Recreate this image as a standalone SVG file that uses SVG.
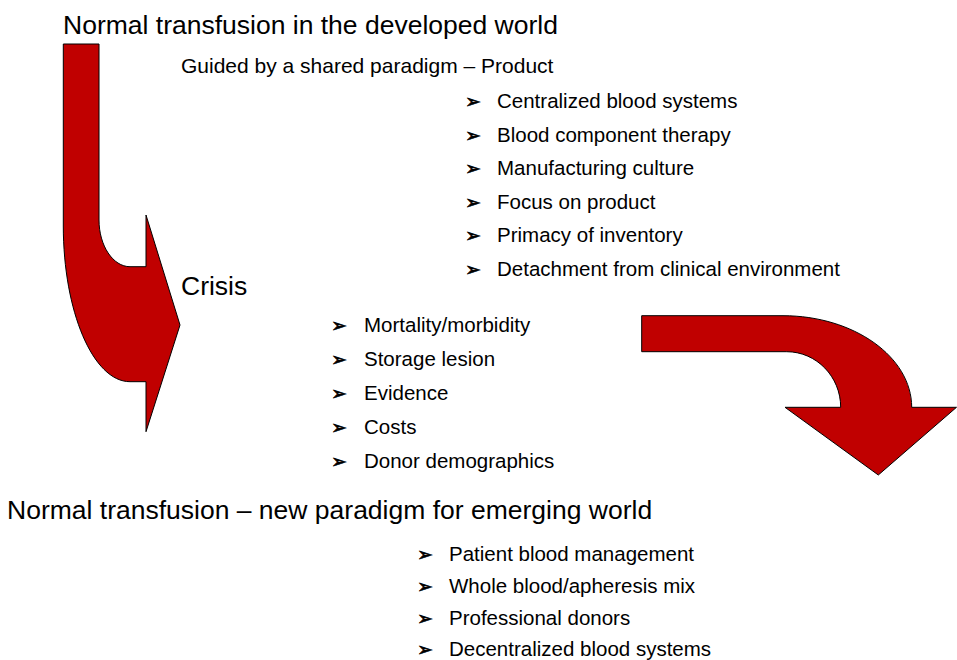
<svg xmlns="http://www.w3.org/2000/svg" width="957" height="660" viewBox="0 0 957 660">
<style>
.big{font-family:"Liberation Sans",Arial,sans-serif;font-size:26.5px;fill:#000}
.sub{font-family:"Liberation Sans",Arial,sans-serif;font-size:21px;fill:#000}
.item{font-family:"Liberation Sans",Arial,sans-serif;font-size:20.5px;fill:#000}
.bul{font-family:"DejaVu Sans",sans-serif;font-size:19px;font-weight:bold;fill:#000;stroke:#000;stroke-width:0.6}
.arrow{fill:#C00000;stroke:#000;stroke-width:1}
</style>
<rect width="957" height="660" fill="#fff"/>
<g id="connectors">
<path id="arrow-down" class="arrow" d="M63.3,44 L99,44 L99,220 C99,245.7 113,266.7 130,266.7 L146,266.7 L146,215 L180,325 L146,431.7 L146,381.7 L130,381.7 C93,381.7 63.3,311 63.3,226 Z"/>
<path id="arrow-right" class="arrow" d="M641.7,315.7 L783,315.7 C853.8,315.7 911.7,356.9 911.7,407.3 L956.5,407.3 L878.3,475 L785,407.3 L840.7,407.3 C840.7,376.7 816.4,351.7 786.7,351.7 L641.7,351.7 Z"/>
</g>
<g id="title-developed"><text class="big" x="63" y="34">Normal transfusion in the developed world</text></g>
<g id="paradigm-product"><text class="sub" x="181" y="73">Guided by a shared paradigm – Product</text></g>
<g id="product-list">
<text class="bul" x="465" y="108">➢</text><text class="item" x="497" y="108">Centralized blood systems</text>
<text class="bul" x="465" y="141.5">➢</text><text class="item" x="497" y="141.5">Blood component therapy</text>
<text class="bul" x="465" y="175">➢</text><text class="item" x="497" y="175">Manufacturing culture</text>
<text class="bul" x="465" y="208.5">➢</text><text class="item" x="497" y="208.5">Focus on product</text>
<text class="bul" x="465" y="242">➢</text><text class="item" x="497" y="242">Primacy of inventory</text>
<text class="bul" x="465" y="275.5">➢</text><text class="item" x="497" y="275.5">Detachment from clinical environment</text>
</g>
<g id="crisis"><text class="big" x="181" y="295">Crisis</text></g>
<g id="crisis-list">
<text class="bul" x="331" y="332">➢</text><text class="item" x="364" y="332">Mortality/morbidity</text>
<text class="bul" x="331" y="366">➢</text><text class="item" x="364" y="366">Storage lesion</text>
<text class="bul" x="331" y="400">➢</text><text class="item" x="364" y="400">Evidence</text>
<text class="bul" x="331" y="434">➢</text><text class="item" x="364" y="434">Costs</text>
<text class="bul" x="331" y="468">➢</text><text class="item" x="364" y="468">Donor demographics</text>
</g>
<g id="title-emerging"><text class="big" x="7" y="519">Normal transfusion – new paradigm for emerging world</text></g>
<g id="emerging-list">
<text class="bul" x="417" y="561">➢</text><text class="item" x="449" y="561">Patient blood management</text>
<text class="bul" x="417" y="593">➢</text><text class="item" x="449" y="593">Whole blood/apheresis mix</text>
<text class="bul" x="417" y="625">➢</text><text class="item" x="449" y="625">Professional donors</text>
<text class="bul" x="417" y="656">➢</text><text class="item" x="449" y="656">Decentralized blood systems</text>
</g>
</svg>
